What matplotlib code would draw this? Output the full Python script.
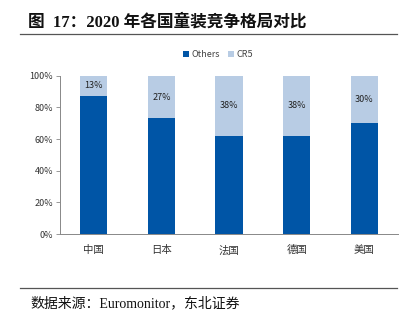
import matplotlib
matplotlib.use("Agg")
import matplotlib.pyplot as plt
from matplotlib.ticker import FuncFormatter
from matplotlib.lines import Line2D

plt.rcParams['font.family'] = ['Noto Sans CJK SC', 'DejaVu Sans']

categories = ['中国', '日本', '法国', '德国', '美国']
others = [87, 73, 62, 62, 70]
cr5 = [13, 27, 38, 38, 30]
cr5_labels = ['13%', '27%', '38%', '38%', '30%']
yticks = [0, 20, 40, 60, 80, 100]

dark = '#0055A6'
light = '#B8CCE4'

fig = plt.figure(figsize=(4.10, 3.23), dpi=100)
ax = fig.add_axes([60/410, 1-234/323, 338/410, (234-75.7)/323])

x = list(range(len(categories)))
ax.bar(x, others, width=0.4, color=dark, label='Others', zorder=2)
ax.bar(x, cr5, width=0.4, bottom=others, color=light, label='CR5', zorder=2)
for xi, o, c, lab in zip(x, others, cr5, cr5_labels):
    ax.text(xi, o + c/2, lab, ha='center', va='center', fontsize=6.5, color='#222222')

ax.set_xlim(-0.5, len(categories) - 0.5)
ax.set_ylim(0, 100)
ax.set_yticks(yticks)
ax.yaxis.set_major_formatter(FuncFormatter(lambda v, p: f'{int(v)}%'))
ax.set_xticks(x)
ax.set_xticklabels(categories)
ax.tick_params(axis='y', direction='out', length=3, width=0.6, color='#888888', labelsize=6.5, pad=2, labelcolor='#333333')
ax.tick_params(axis='x', length=0, labelsize=7.5, pad=8, labelcolor='#333333')
for s in ['top', 'right']:
    ax.spines[s].set_visible(False)
ax.spines['left'].set_color('#888888')
ax.spines['bottom'].set_color('#888888')
ax.spines['left'].set_linewidth(0.7)
ax.spines['bottom'].set_linewidth(0.7)

leg = ax.legend(loc='center', bbox_to_anchor=((218 - 60)/338, 1 + (75.7 - 54.5)/158.3), ncol=2, frameon=False,
                fontsize=6.5, handlelength=0.7, handleheight=0.7, columnspacing=0.8,
                handletextpad=0.3, borderpad=0)
for t in leg.get_texts():
    t.set_color('#444444')

fig.text(28/410, 1-22/323, '图  17：2020 年各国童装竞争格局对比', fontsize=12, fontweight='bold',
         ha='left', va='center', family=['Liberation Serif', 'Noto Sans CJK SC'], color='#111111')
fig.add_artist(Line2D([20/410, 397/410], [1-34/323, 1-34/323], color='#555555', lw=0.9))
fig.add_artist(Line2D([20/410, 397/410], [1-288/323, 1-288/323], color='#555555', lw=0.9))
fig.text(30/410, 1-303/323, '数据来源：Euromonitor，东北证券', fontsize=10,
         ha='left', va='center', family=['Liberation Serif', 'Noto Sans CJK SC'], color='#111111')

fig.savefig('out.png', dpi=100)
